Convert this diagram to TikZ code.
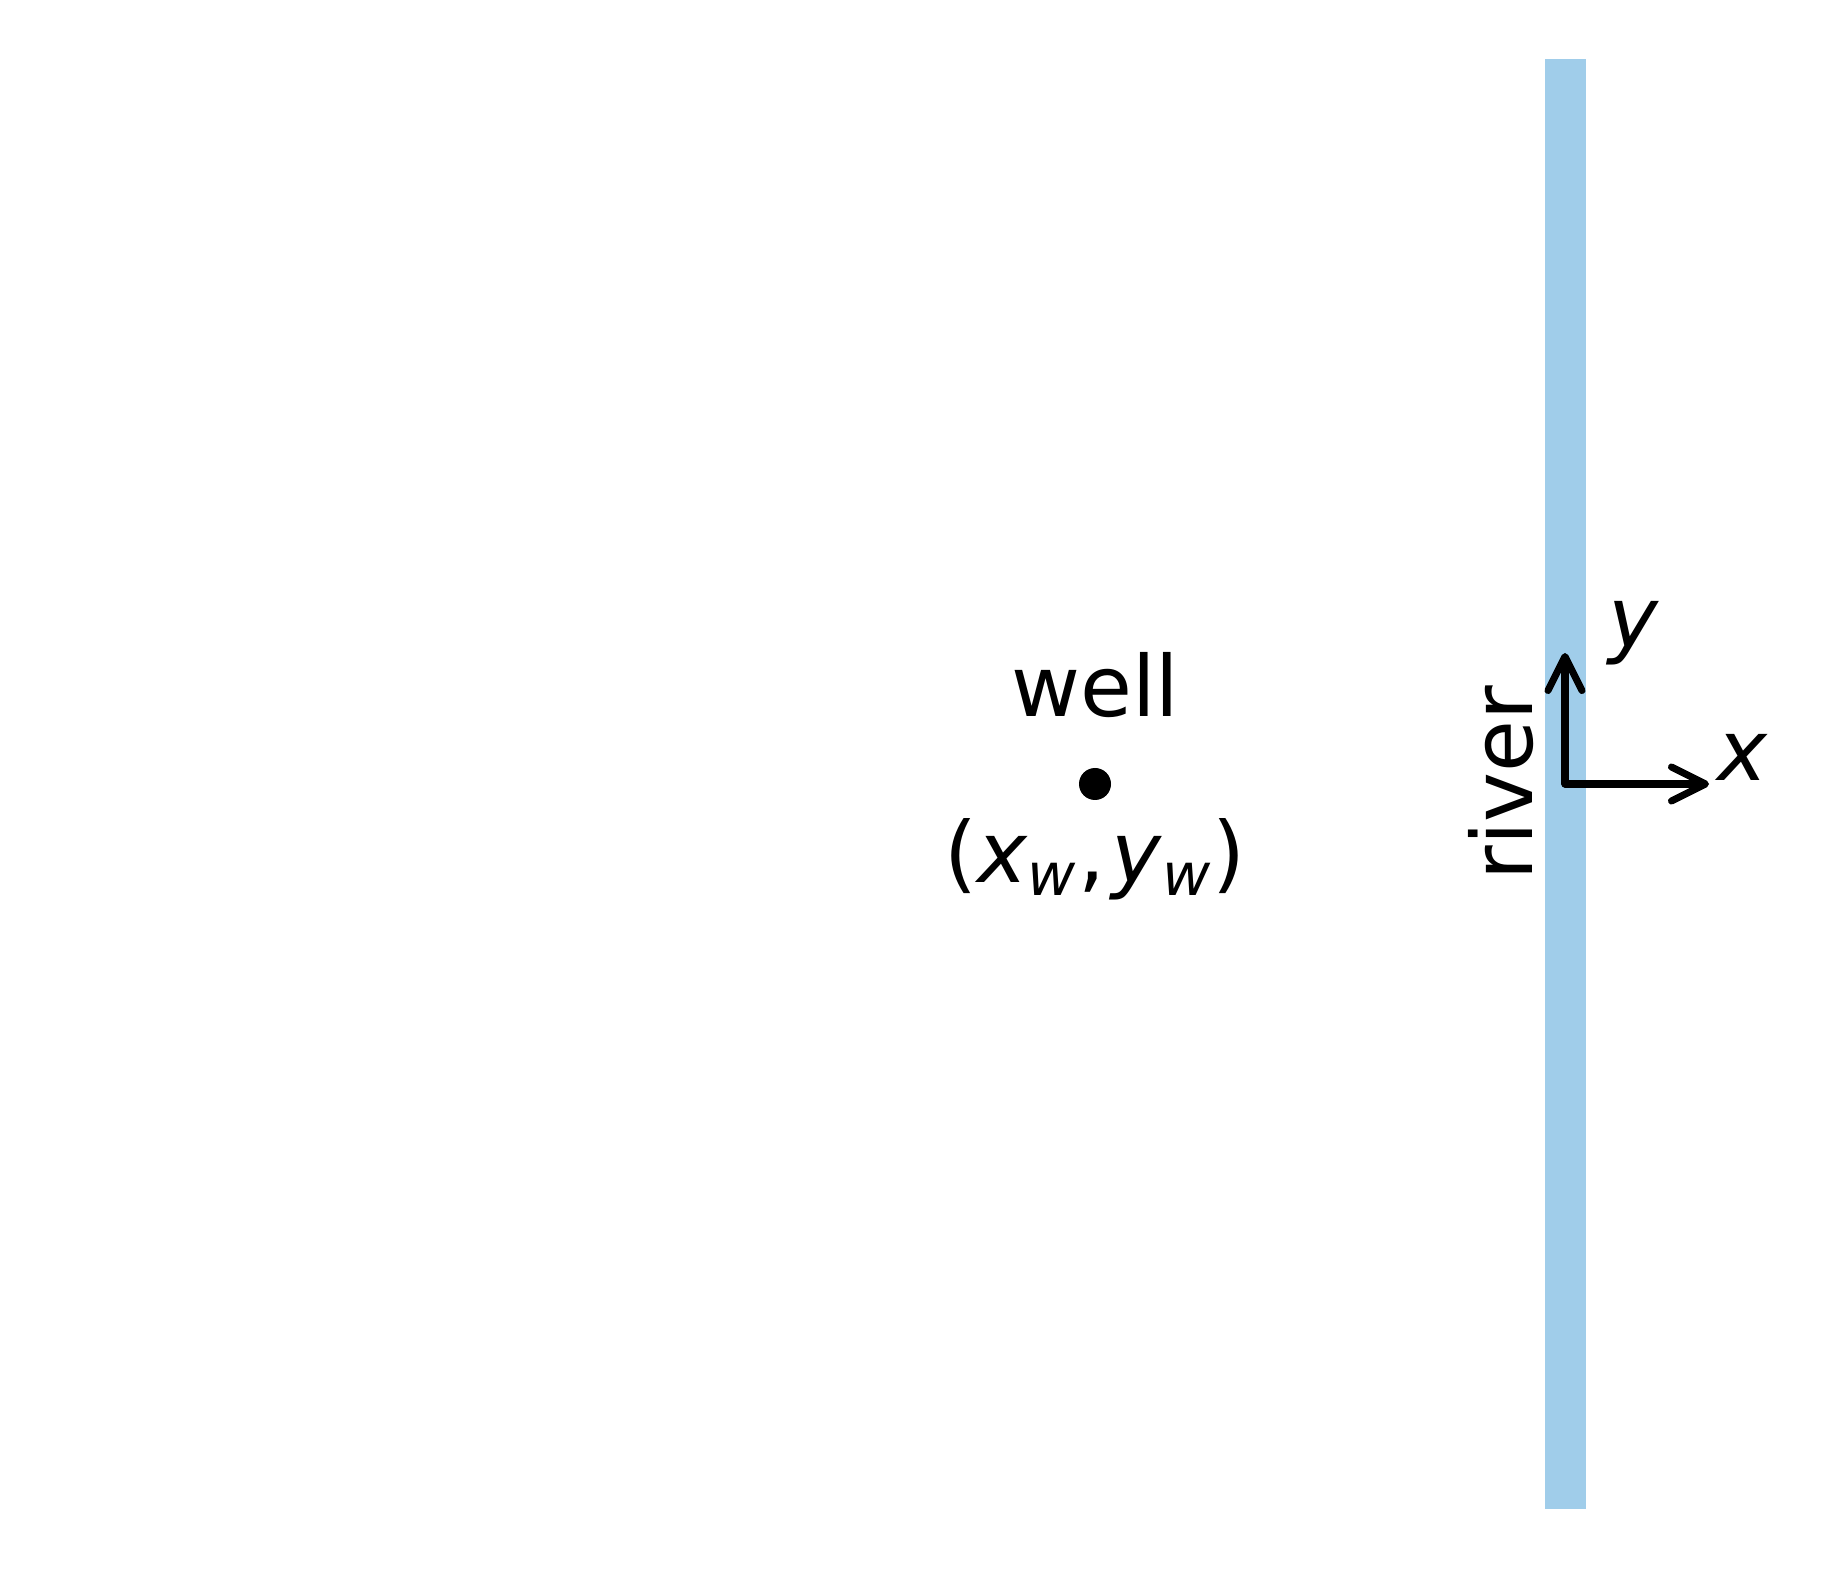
\documentclass[tikz,border=0pt]{standalone}
\usepackage{fontspec}
\setmainfont{DejaVu Sans}
\usepackage{xcolor}
\usepackage{tikz}
\usetikzlibrary{arrows.meta, positioning}
\definecolor{riverblue}{RGB}{160,205,234}

\begin{document}
\begin{tikzpicture}[scale=1,
    lab/.style={font=\fontsize{24}{28}\selectfont, inner sep=0pt},
    axe/.style={line width=2pt, line cap=round, line join=round,
        -{Straight Barb[length=0.34cm, width=0.34cm, line width=2pt, round]}}]
    \def\xR{15.65}  % axe de la riviere
    \def\yO{7.85}   % hauteur de l'origine

    \useasboundingbox (0,0) rectangle (18.26,15.69);

    % Riviere
    \fill[riverblue] (15.45,0.60) rectangle (15.86,15.10);
    \node[lab, rotate=90, anchor=base] (river) at (15.32,7.86) {river};

    % Puits
    \coordinate (well) at (10.95,\yO);
    \fill[black] (well) circle (0.16);
    \node[lab, anchor=base] (welllab) at (10.95,8.52) {well};
    \node[lab, anchor=base] (wellpos) at (10.95,6.87)
        {(\textit{x}\textsubscript{\textit{w}},\kern0.08em\textit{y}\textsubscript{\textit{w}})};

    % Axes
    \coordinate (origin) at (\xR,\yO);
    \coordinate (ytip) at (\xR,9.16);
    \coordinate (xtip) at (17.09,\yO);
    \draw[axe] (origin) -- (ytip);
    \draw[axe] (origin) -- (xtip);
    \node[lab, anchor=base] (ylab) at (16.34,9.21) {\textit{y}};
    \node[lab, anchor=base] (xlab) at (17.43,7.89) {\textit{x}};
\end{tikzpicture}
\end{document}
